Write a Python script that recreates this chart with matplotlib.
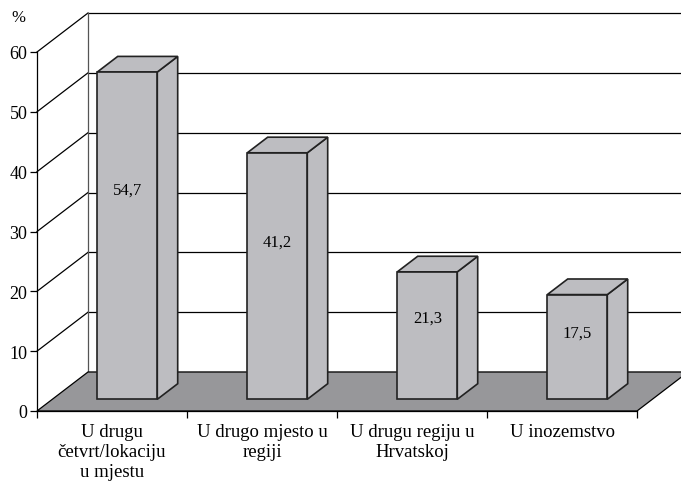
"""
3D-style bar chart (Excel look) recreated with plain matplotlib
"""
import matplotlib
matplotlib.use('Agg')
import matplotlib.pyplot as plt
from matplotlib.patches import Polygon

# data
categories = ['U drugu\nčetvrt/lokaciju\nu mjestu',
              'U drugo mjesto u\nregiji',
              'U drugu regiju u\nHrvatskoj',
              'U inozemstvo']
values = [54.7, 41.2, 21.3, 17.5]
value_labels = ['54,7', '41,2', '21,3', '17,5']
y_ticks = [0, 10, 20, 30, 40, 50, 60]

plt.rcParams['font.family'] = ['Liberation Serif', 'DejaVu Serif']

W, H = 681, 485
fig = plt.figure(figsize=(W / 100, H / 100), dpi=100)
# front plane of the chart in pixels
x0_px, x1_px, y0_px, y1_px = 37, 637, 412, 53
ax = fig.add_axes([x0_px / W, (H - y0_px) / H,
                   (x1_px - x0_px) / W, (y0_px - y1_px) / H])
n = len(categories)
ymax = 60
ax.set_xlim(0, n)
ax.set_ylim(0, ymax)

# depth offset (full depth) in data units
px_per_x = (x1_px - x0_px) / n
px_per_y = (y0_px - y1_px) / ymax
DX = 51 / px_per_x
DY = 39 / px_per_y


def proj(x, y, d):
    return (x + DX * d, y + DY * d)


def poly(pts, **kw):
    p = Polygon([proj(*p) for p in pts], closed=True, clip_on=False, **kw)
    ax.add_patch(p)


def line(a, b, **kw):
    pa, pb = proj(*a), proj(*b)
    ax.plot([pa[0], pb[0]], [pa[1], pb[1]], clip_on=False, **kw)


# back wall grid + side wall diagonals
for t in y_ticks:
    if t > 0:
        line((0, t, 0), (0, t, 1), color='black', lw=0.9, zorder=1)
    line((0, t, 1), (n, t, 1), color='black', lw=0.9, zorder=1)
line((0, 0, 1), (0, ymax, 1), color='#555555', lw=0.9, zorder=1)

# floor
poly([(0, 0, 0), (n, 0, 0), (n, 0, 1), (0, 0, 1)],
     facecolor='#97979a', edgecolor='black', lw=0.9, zorder=2)

# bars
bar_w = 0.4
d1, d2 = 0.3, 0.7
face = '#bdbdc1'
edge = '#222222'
for i, v in enumerate(values):
    xl = i + 0.5 - bar_w / 2
    xr = i + 0.5 + bar_w / 2
    poly([(xl, 0, d1), (xr, 0, d1), (xr, v, d1), (xl, v, d1)],
         facecolor=face, edgecolor=edge, lw=1.2, zorder=4)
    poly([(xr, 0, d1), (xr, 0, d2), (xr, v, d2), (xr, v, d1)],
         facecolor=face, edgecolor=edge, lw=1.2, zorder=3)
    poly([(xl, v, d1), (xr, v, d1), (xr, v, d2), (xl, v, d2)],
         facecolor=face, edgecolor=edge, lw=1.2, zorder=3)
    lx, ly = proj(i + 0.5, v * 0.64, d1)
    ax.text(lx, ly, value_labels[i], ha='center', va='center',
            fontsize=12, zorder=5)

# axes styling
for s in ['top', 'right']:
    ax.spines[s].set_visible(False)
ax.spines['left'].set_linewidth(0.9)
ax.spines['bottom'].set_linewidth(0.9)
ax.spines['bottom'].set_zorder(6)
ax.patch.set_visible(False)

ax.set_yticks(y_ticks)
ax.set_yticklabels([str(t) for t in y_ticks], fontsize=13)
ax.tick_params(axis='y', direction='out', length=5, width=0.9, pad=2)

ax.set_xticks(range(n + 1))
ax.set_xticklabels([''] * (n + 1))
ax.tick_params(axis='x', which='major', direction='out', length=5, width=0.9)
ax.set_xticks([i + 0.5 for i in range(n)], minor=True)
ax.set_xticklabels(categories, minor=True, fontsize=13.5, linespacing=1.22)
ax.tick_params(axis='x', which='minor', length=0, pad=9)

fig.text(11 / W, 1 - 18 / H, '%', fontsize=12, va='center', ha='left')

fig.savefig('out.png', dpi=100)
